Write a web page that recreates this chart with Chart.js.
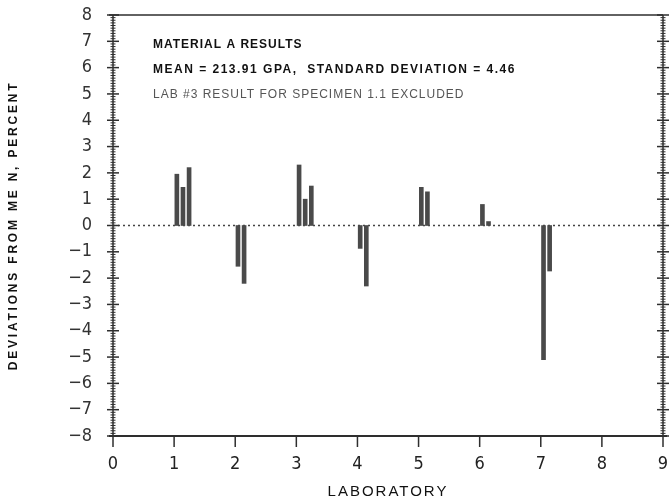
<!DOCTYPE html>
<html>
<head>
<meta charset="utf-8">
<script src="https://cdn.jsdelivr.net/npm/chart.js@4.4.0/dist/chart.umd.min.js"></script>
<style>
  html, body { margin: 0; padding: 0; background: #ffffff; }
  #wrap { width: 672px; height: 504px; }
</style>
</head>
<body>
<div id="wrap"><canvas id="labChart" width="672" height="504"></canvas></div>
<script>
// values, percent deviation from the mean
const labs = [1, 2, 3, 4, 5, 6, 7];
const specimen1 = [1.95, -1.55, 2.3, -0.87, 1.45, 0.8, -5.1];
const specimen2 = [1.45, -2.2, 1.0, -2.3, 1.28, 0.15, -1.73];
const specimen3 = [2.2, null, 1.5, null, null, null, null];

const xTicks = [0, 1, 2, 3, 4, 5, 6, 7, 8, 9];
const yMin = -8, yMax = 8;

const notes = [
    "MATERIAL A RESULTS",
    "MEAN = 213.91 GPA,  STANDARD DEVIATION = 4.46",
    "LAB #3 RESULT FOR SPECIMEN 1.1 EXCLUDED"
];
const yTitle = "DEVIATIONS FROM ME N, PERCENT";
const xTitle = "LABORATORY";

const numFont = "'Liberation Sans Narrow', 'DejaVu Sans Condensed', 'Liberation Sans', sans-serif";
const textFont = "'Liberation Sans', Arial, sans-serif";
const ink = '#2e2e2e';
const barColor = '#4a4a4a';

// each specimen sits a little right of its lab, side by side
function toPoints(values, slot) {
    let pts = [];
    for (let i = 0; i < labs.length; i++) {
        if (values[i] === null) continue;
        pts.push({ x: labs[i] + 0.045 + slot * 0.1, y: values[i] });
    }
    return pts;
}

const series = [specimen1, specimen2, specimen3];

const datasets = series.map(function (vals, k) {
    return {
        label: 'Specimen ' + (k + 1),
        data: toPoints(vals, k),
        backgroundColor: barColor,
        borderWidth: 0,
        barThickness: 4,
        grouped: false
    };
});

// frame, crossing ticks, dotted zero line, notes and axis titles
const framePlugin = {
    id: 'frame',
    beforeDatasetsDraw(chart) {
        const ctx = chart.ctx;
        const a = chart.chartArea;
        const ys = chart.scales.y;
        const y0 = ys.getPixelForValue(0);
        ctx.save();
        ctx.strokeStyle = '#444';
        ctx.lineWidth = 1.5;
        ctx.setLineDash([2, 3]);
        ctx.beginPath();
        ctx.moveTo(a.left, y0);
        ctx.lineTo(a.right, y0);
        ctx.stroke();
        ctx.restore();
    },
    afterDraw(chart) {
        const ctx = chart.ctx;
        const a = chart.chartArea;
        const xs = chart.scales.x;
        const ys = chart.scales.y;
        ctx.save();
        ctx.strokeStyle = ink;

        // top line
        ctx.lineWidth = 1.5;
        ctx.beginPath();
        ctx.moveTo(a.left - 4, a.top);
        ctx.lineTo(a.right, a.top);
        ctx.stroke();

        // left and right axes
        [a.left, a.right].forEach(function (px) {
            ctx.lineWidth = 1.5;
            ctx.beginPath();
            ctx.moveTo(px, a.top);
            ctx.lineTo(px, a.bottom);
            ctx.stroke();
            for (let v = yMin * 10; v <= yMax * 10; v++) {
                const py = ys.getPixelForValue(v / 10);
                const major = v % 10 === 0;
                const half = major ? 6 : 2.5;
                ctx.lineWidth = major ? 1.5 : 1;
                ctx.beginPath();
                ctx.moveTo(px - half, py);
                ctx.lineTo(px + half, py);
                ctx.stroke();
            }
        });

        // bottom axis
        ctx.lineWidth = 2;
        ctx.beginPath();
        ctx.moveTo(a.left - 4, a.bottom);
        ctx.lineTo(a.right + 4, a.bottom);
        ctx.stroke();
        xTicks.forEach(function (t) {
            const px = xs.getPixelForValue(t);
            ctx.lineWidth = 1.5;
            ctx.beginPath();
            ctx.moveTo(px, a.bottom);
            ctx.lineTo(px, a.bottom + 11);
            ctx.stroke();
        });

        // notes
        ctx.textBaseline = 'middle';
        ctx.textAlign = 'left';
        notes.forEach(function (line, i) {
            ctx.font = (i < 2 ? 'bold ' : '') + '12px ' + textFont;
            ctx.letterSpacing = i === 1 ? '1.5px' : '1px';
            ctx.fillStyle = i < 2 ? '#111' : '#555';
            ctx.fillText(line, a.left + 40, a.top + 30 + i * 25);
        });

        // axis titles
        ctx.fillStyle = '#111';
        ctx.textAlign = 'center';
        ctx.letterSpacing = '2px';
        ctx.font = '15px ' + textFont;
        ctx.fillText(xTitle, (a.left + a.right) / 2, 492);

        ctx.letterSpacing = '2.8px';
        ctx.font = 'bold 12px ' + textFont;
        ctx.translate(14, (a.top + a.bottom) / 2);
        ctx.rotate(-Math.PI / 2);
        ctx.fillText(yTitle, 0, 0);
        ctx.restore();
    }
};

const config = {
    type: 'bar',
    data: { datasets: datasets },
    options: {
        responsive: false,
        animation: false,
        layout: { padding: { top: 15, right: 9, left: 0, bottom: 0 } },
        plugins: {
            legend: { display: false },
            tooltip: { enabled: false }
        },
        scales: {
            x: {
                type: 'linear',
                min: 0,
                max: 9,
                offset: false,
                grid: { display: false, drawTicks: false, offset: false },
                border: { display: false },
                afterBuildTicks: function (scale) {
                    scale.ticks = xTicks.map(function (v) { return { value: v }; });
                },
                ticks: {
                    color: '#222',
                    font: { family: numFont, size: 18 },
                    padding: 18,
                    maxRotation: 0,
                    autoSkip: false
                },
                afterFit: function (scale) {
                    scale.height = 68;
                    scale.paddingLeft = 0;
                    scale.paddingRight = 0;
                }
            },
            y: {
                min: yMin,
                max: yMax,
                grid: { display: false, drawTicks: false },
                border: { display: false },
                ticks: {
                    stepSize: 1,
                    color: '#333',
                    font: { family: numFont, size: 18 },
                    padding: 21,
                    callback: function (v) { return v < 0 ? '\u2212' + Math.abs(v) : String(v); }
                },
                afterFit: function (scale) {
                    scale.width = 113;
                    scale.paddingTop = 0;
                    scale.paddingBottom = 0;
                }
            }
        }
    },
    plugins: [framePlugin]
};

const labChart = new Chart(document.getElementById('labChart'), config);
</script>
</body>
</html>
